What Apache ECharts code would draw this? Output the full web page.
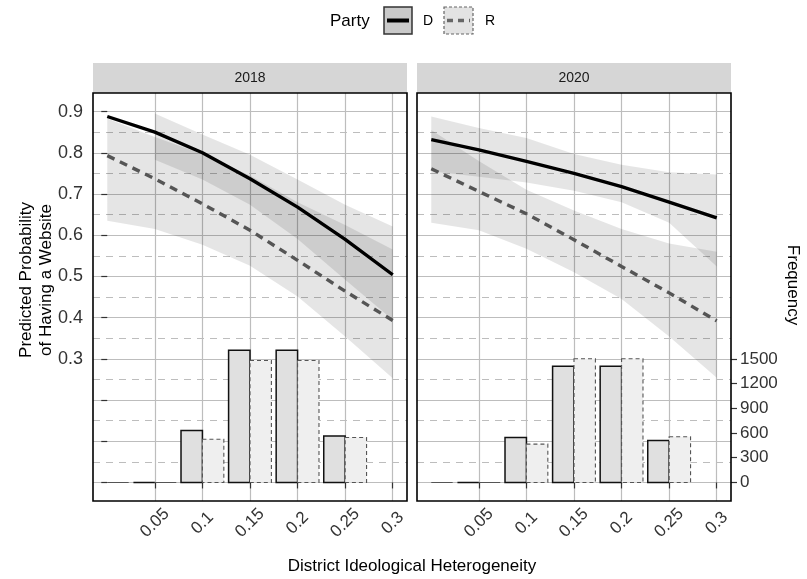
<!DOCTYPE html>
<html><head><meta charset="utf-8">
<script src="https://cdn.jsdelivr.net/npm/echarts@6/dist/echarts.min.js"></script>
<style>html,body{margin:0;padding:0;background:#fff}#c{width:807px;height:579px}</style>
</head><body><div id="c"></div>
<script>
// ---------------- data ----------------
const panels = ['2018', '2020'];
const xPts = [0, 0.05, 0.1, 0.15, 0.2, 0.25, 0.3];

const predD2018 = [0.888, 0.850, 0.800, 0.737, 0.668, 0.590, 0.504];
const predR2018 = [0.793, 0.737, 0.676, 0.612, 0.539, 0.464, 0.393];
const predD2020 = [0.832, 0.807, 0.779, 0.750, 0.718, 0.680, 0.642];
const predR2020 = [0.761, 0.706, 0.652, 0.589, 0.524, 0.460, 0.392];

const loD2018 = [null, 0.783, 0.735, 0.674, 0.591, 0.492, 0.395];
const hiD2018 = [null, 0.895, 0.844, 0.795, 0.735, 0.674, 0.621];
const loR2018 = [0.635, 0.615, 0.577, 0.526, 0.451, 0.354, 0.253];
const hiR2018 = [0.883, 0.838, 0.797, 0.745, 0.680, 0.625, 0.565];

const loD2020 = [0.755, 0.742, 0.728, 0.708, 0.680, 0.630, 0.524];
const hiD2020 = [0.888, 0.860, 0.836, 0.797, 0.771, 0.753, 0.747];
const loR2020 = [0.630, 0.612, 0.567, 0.510, 0.445, 0.354, 0.254];
const hiR2020 = [0.855, 0.780, 0.710, 0.660, 0.615, 0.580, 0.560];

const binCenters = [0, 0.05, 0.1, 0.15, 0.2, 0.25];
const freqD2018 = [null, 0, 630, 1605, 1605, 565];
const freqR2018 = [0, 0, 525, 1480, 1480, 545];
const freqD2020 = [null, 0, 545, 1410, 1410, 510];
const freqR2020 = [0, 0, 465, 1500, 1500, 555];

const xTicks = [0.05, 0.1, 0.15, 0.2, 0.25, 0.3];
const xTickLabels = ['0.05', '0.1', '0.15', '0.2', '0.25', '0.3'];
const yTicks = [0, 0.1, 0.2, 0.3, 0.4, 0.5, 0.6, 0.7, 0.8, 0.9];
const yLabelVals = [0.3, 0.4, 0.5, 0.6, 0.7, 0.8, 0.9];
const yTickLabels = ['0.3', '0.4', '0.5', '0.6', '0.7', '0.8', '0.9'];
const yMinor = [0.05, 0.15, 0.25, 0.35, 0.45, 0.55, 0.65, 0.75, 0.85];
const freqTicks = [0, 300, 600, 900, 1200, 1500];
const freqTickLabels = ['0', '300', '600', '900', '1200', '1500'];

// ---------------- layout / style ----------------
const FONT = 'Liberation Sans, Arial, sans-serif';
const X_MIN = -0.015, X_MAX = 0.315;
const Y_MIN = -0.045, Y_MAX = 0.945;
const FREQ_PER_PROB = 5000;
const BAR_W = 0.0225;
const GRID = [{left: 93, top: 93, width: 314, height: 408}, {left: 417, top: 93, width: 314, height: 408}];
const gridColor = '#bdbdbd';

const chart = echarts.init(document.getElementById('c'), null, {renderer: 'canvas'});

function lab(vals, labels) {
  return v => { for (let i = 0; i < vals.length; i++) if (Math.abs(vals[i] - v) < 1e-9) return labels[i]; return ''; };
}

const xAxes = [0, 1].map(g => ({
  type: 'value', gridIndex: g, min: X_MIN, max: X_MAX,
  axisLine: {show: false},
  axisTick: {show: true, length: 6, customValues: xTicks, lineStyle: {color: '#333', width: 1.2}},
  axisLabel: {show: true, customValues: xTicks, rotate: 45, align: 'center', verticalAlign: 'middle', margin: 22,
    fontSize: 17, color: '#333', fontFamily: FONT, formatter: lab(xTicks, xTickLabels)},
  splitLine: {show: true, lineStyle: {color: gridColor, width: 1.2}}
}));

const yAxes = [];
yAxes.push({type: 'value', gridIndex: 0, min: Y_MIN, max: Y_MAX, position: 'left',
  axisLine: {show: false},
  axisTick: {show: true, length: 6, customValues: yTicks, lineStyle: {color: '#333', width: 1.2}},
  axisLabel: {show: true, customValues: yLabelVals, margin: 10, fontSize: 18, color: '#333', fontFamily: FONT,
    formatter: lab(yLabelVals, yTickLabels)},
  splitLine: {show: true, lineStyle: {color: gridColor, width: 1.2}}});
yAxes.push({type: 'value', gridIndex: 0, min: Y_MIN, max: Y_MAX, position: 'left',
  axisLine: {show: false},
  axisTick: {show: true, length: 0, customValues: yMinor},
  axisLabel: {show: false, customValues: yMinor},
  splitLine: {show: true, lineStyle: {color: gridColor, width: 1.2, type: [7, 6]}}});
yAxes.push({type: 'value', gridIndex: 0, min: Y_MIN * FREQ_PER_PROB, max: Y_MAX * FREQ_PER_PROB, show: false});
yAxes.push({type: 'value', gridIndex: 1, min: Y_MIN, max: Y_MAX, position: 'left',
  axisLine: {show: false},
  axisTick: {show: true, length: 0, customValues: yTicks},
  axisLabel: {show: false, customValues: yTicks},
  splitLine: {show: true, lineStyle: {color: gridColor, width: 1.2}}});
yAxes.push({type: 'value', gridIndex: 1, min: Y_MIN, max: Y_MAX, position: 'left',
  axisLine: {show: false},
  axisTick: {show: true, length: 0, customValues: yMinor},
  axisLabel: {show: false, customValues: yMinor},
  splitLine: {show: true, lineStyle: {color: gridColor, width: 1.2, type: [7, 6]}}});
yAxes.push({type: 'value', gridIndex: 1, min: Y_MIN * FREQ_PER_PROB, max: Y_MAX * FREQ_PER_PROB, position: 'right',
  axisLine: {show: false},
  axisTick: {show: true, length: 6, customValues: freqTicks, lineStyle: {color: '#333', width: 1.2}},
  axisLabel: {show: true, customValues: freqTicks, margin: 9, fontSize: 17, color: '#333', fontFamily: FONT,
    formatter: lab(freqTicks, freqTickLabels)},
  splitLine: {show: false}});

function ribbon(xs, lo, hi, xi, yi) {
  const rows = [];
  xs.forEach((x, i) => { if (lo[i] != null && hi[i] != null) rows.push([x, lo[i], hi[i]]); });
  return {
    type: 'custom', xAxisIndex: xi, yAxisIndex: yi, clip: true, z: 3, silent: true,
    encode: {x: 0, y: [1, 2]}, data: rows,
    renderItem: function (params, api) {
      if (params.dataIndex !== 0) return null;
      const top = rows.map(r => api.coord([r[0], r[2]]));
      const bot = rows.map(r => api.coord([r[0], r[1]])).reverse();
      return {type: 'polygon', shape: {points: top.concat(bot)}, style: {fill: 'rgba(0,0,0,0.1)'}};
    }
  };
}

function bars(centers, freqs, side, xi, yi, style) {
  const rows = [];
  centers.forEach((c, i) => { if (freqs[i] != null) rows.push([c, freqs[i]]); });
  return {
    type: 'custom', xAxisIndex: xi, yAxisIndex: yi, clip: true, z: 2, silent: true,
    encode: {x: 0, y: 1}, data: rows,
    renderItem: function (params, api) {
      const c = api.value(0), f = api.value(1);
      const x0 = side < 0 ? c - BAR_W : c, x1 = side < 0 ? c : c + BAR_W;
      const p0 = api.coord([x0, f]), p1 = api.coord([x1, 0]);
      return {type: 'rect', shape: {x: p0[0], y: p0[1], width: p1[0] - p0[0], height: p1[1] - p0[1]}, style: style};
    }
  };
}

function line(ys, xi, yi, isD) {
  return {
    type: 'line', xAxisIndex: xi, yAxisIndex: yi, z: 5, silent: true,
    data: xPts.map((x, i) => [x, ys[i]]), symbol: 'none', smooth: false,
    lineStyle: isD ? {color: '#000', width: 3.4, cap: 'butt'} : {color: '#555', width: 3.4, type: [8, 6], cap: 'butt'}
  };
}

const styleD = {fill: '#e0e0e0', stroke: '#111', lineWidth: 1.5};
const styleR = {fill: '#efefef', stroke: '#555', lineWidth: 1.1, lineDash: [4, 3]};

const series = [
  bars(binCenters, freqD2018, -1, 0, 2, styleD),
  bars(binCenters, freqR2018, 1, 0, 2, styleR),
  bars(binCenters, freqD2020, -1, 1, 5, styleD),
  bars(binCenters, freqR2020, 1, 1, 5, styleR),
  ribbon(xPts, loD2018, hiD2018, 0, 0),
  ribbon(xPts, loR2018, hiR2018, 0, 0),
  ribbon(xPts, loD2020, hiD2020, 1, 3),
  ribbon(xPts, loR2020, hiR2020, 1, 3),
  line(predD2018, 0, 0, true),
  line(predR2018, 0, 0, false),
  line(predD2020, 1, 3, true),
  line(predR2020, 1, 3, false)
];

const graphics = [];
GRID.forEach((g, i) => {
  graphics.push({type: 'rect', shape: {x: g.left, y: 63, width: g.width, height: 30}, style: {fill: '#d6d6d6'}, z: 1});
  graphics.push({type: 'text', x: g.left + g.width / 2, y: 78, style: {text: panels[i], font: '14px ' + FONT, fill: '#1a1a1a', align: 'center', verticalAlign: 'middle'}, z: 2});
  graphics.push({type: 'rect', shape: {x: g.left, y: g.top, width: g.width, height: g.height}, style: {fill: 'none', stroke: '#000', lineWidth: 1.6}, z: 100});
});
graphics.push({type: 'text', x: 330, y: 21, style: {text: 'Party', font: '17px ' + FONT, fill: '#000', verticalAlign: 'middle'}});
graphics.push({type: 'rect', shape: {x: 384, y: 7, width: 28, height: 27}, style: {fill: '#c9c9c9', stroke: '#333', lineWidth: 1.5}});
graphics.push({type: 'line', shape: {x1: 387, y1: 20.5, x2: 409, y2: 20.5}, style: {stroke: '#000', lineWidth: 4}});
graphics.push({type: 'text', x: 423, y: 21, style: {text: 'D', font: '14px ' + FONT, fill: '#000', verticalAlign: 'middle'}});
graphics.push({type: 'rect', shape: {x: 444, y: 7, width: 29, height: 27}, style: {fill: '#e3e3e3', stroke: '#666', lineWidth: 1.2, lineDash: [3, 2]}});
graphics.push({type: 'line', shape: {x1: 447, y1: 20.5, x2: 470, y2: 20.5}, style: {stroke: '#666', lineWidth: 3.5, lineDash: [6, 5]}});
graphics.push({type: 'text', x: 485, y: 21, style: {text: 'R', font: '14px ' + FONT, fill: '#000', verticalAlign: 'middle'}});
graphics.push({type: 'text', x: 36, y: 280, rotation: Math.PI / 2, style: {text: 'Predicted Probability\nof Having a Website', font: '17px ' + FONT, fill: '#000', align: 'center', verticalAlign: 'middle', lineHeight: 20}});
graphics.push({type: 'text', x: 793, y: 285, rotation: -Math.PI / 2, style: {text: 'Frequency', font: '17px ' + FONT, fill: '#000', align: 'center', verticalAlign: 'middle'}});
graphics.push({type: 'text', x: 412, y: 566, style: {text: 'District Ideological Heterogeneity', font: '17px ' + FONT, fill: '#000', align: 'center', verticalAlign: 'middle'}});

chart.setOption({
  animation: false,
  backgroundColor: '#fff',
  grid: GRID.map(g => Object.assign({containLabel: false, show: false}, g)),
  xAxis: xAxes,
  yAxis: yAxes,
  series: series,
  graphic: graphics
});
</script>
</body></html>
